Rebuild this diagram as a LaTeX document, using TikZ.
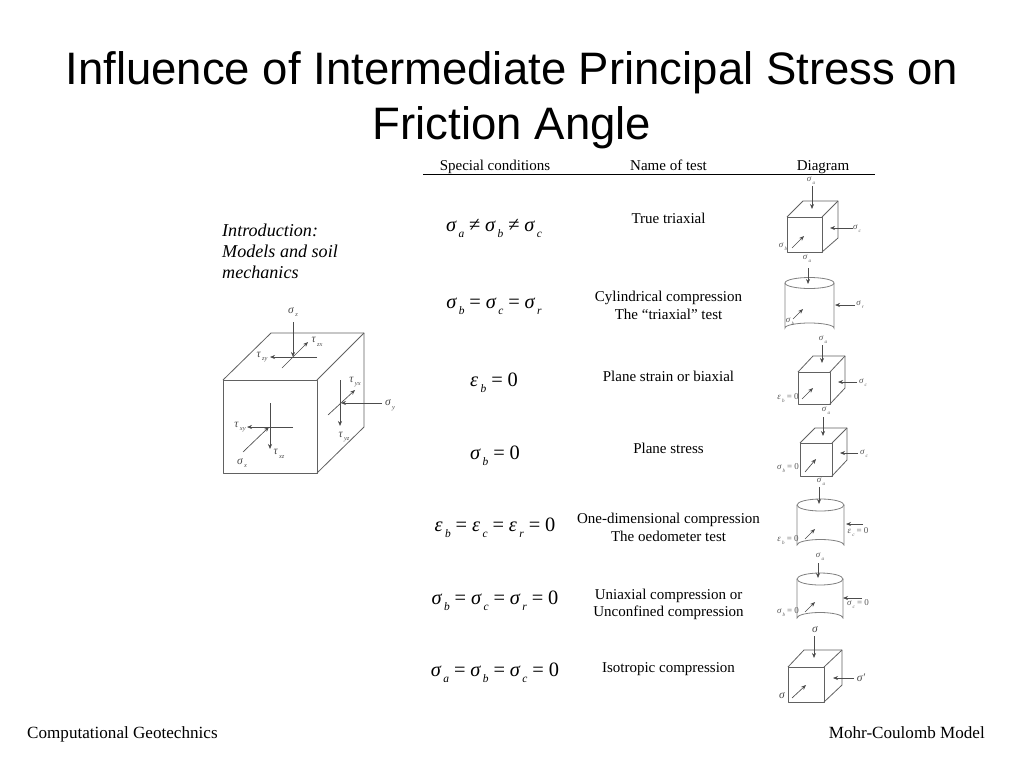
\documentclass[tikz,border=0pt]{standalone}
\usepackage{fontspec}
\setmainfont{Liberation Serif}
\newfontfamily\arialfont{Liberation Sans}
\usetikzlibrary{arrows.meta}
\newcommand\syma[2]{{\itshape #1}\raisebox{-0.3em}{\kern0.12em\fontsize{0.56em}{0.7em}\selectfont\itshape #2}}
\newcommand\sig[1]{\syma{σ}{#1}}
\newcommand\eps[1]{\syma{ε}{#1}}
\newcommand\rel[1]{\kern0.24em #1\kern0.24em}
\tikzset{
  x=1pt,y=-1pt,
  titletext/.style={font=\arialfont\fontsize{45.5}{48}\selectfont,anchor=base,text=black,inner sep=0},
  bodytext/.style={font=\fontsize{15}{18}\selectfont,anchor=base,inner sep=0,text=black},
  footertext/.style={font=\fontsize{17.1}{18}\selectfont,inner sep=0,text=black},
  introtext/.style={font=\fontsize{18.1}{20.5}\selectfont\itshape,anchor=base west,inner sep=0,text=black},
  formula/.style={font=\fontsize{20.4}{22}\selectfont,anchor=base,inner sep=0,text=black},
  edgeline/.style={draw=black!62,line width=0.8pt,line join=round},
  cyl/.style={draw=black!50,line width=0.8pt},
  force/.style={draw=black!70,line width=0.65pt,-{Stealth[length=5pt,width=4pt]}},
  tinylab/.style={font=\fontsize{9}{10}\selectfont,inner sep=0,text=black!65},
  biglab/.style={font=\fontsize{11.5}{12}\selectfont,inner sep=0,text=black!70},
  rulestyle/.style={draw=black,line width=0.8pt}
}
\newcommand\cube[8]{%
  \draw[edgeline] (#1,#3) rectangle (#2,#4);
  \draw[edgeline] (#1,#3) -- (#5,#7) -- (#6,#7) -- (#6,#8) -- (#2,#4);
  \draw[edgeline] (#2,#3) -- (#6,#7);
}
\newcommand\cylinder[6]{%
  \pgfmathsetmacro\cx{(#1+#2)/2}\pgfmathsetmacro\rx{(#2-#1)/2}%
  \draw[cyl] (\cx,#3) ellipse [x radius=\rx,y radius=#5];
  \draw[cyl] (#1,#3) -- (#1,#4) arc [start angle=180,end angle=360,x radius=\rx,y radius=#6] -- (#2,#3);
}
\begin{document}
\begin{tikzpicture}
\useasboundingbox (0,0) rectangle (1024,768);
\fill[white] (0,0) rectangle (1024,768);
\node[titletext] (title1) at (512,84) {Influence of Intermediate Principal Stress on};
\node[titletext] (title2) at (512,139) {Friction Angle};
\node[bodytext] (h1) at (495,170.5) {Special conditions};
\node[bodytext] (h2) at (668.5,170.5) {Name of test};
\node[bodytext] (h3) at (823,170.5) {Diagram};
\draw[rulestyle] (423,174.5) -- (875,174.5);
\node[introtext] (intro1) at (222,236.5) {Introduction:};
\node[introtext] (intro2) at (222,257) {Models and soil};
\node[introtext] (intro3) at (222,278) {mechanics};
% formulas
\node[formula] (f1) at (494,231) {\sig{a}\rel{≠}\sig{b}\rel{≠}\sig{c}};
\node[formula] (f2) at (494,308) {\sig{b}\rel{=}\sig{c}\rel{=}\sig{r}};
\node[formula] (f3) at (494,386) {\eps{b}\rel{=}0};
\node[formula] (f4) at (495,459) {\sig{b}\rel{=}0};
\node[formula] (f5) at (495,531) {\eps{b}\rel{=}\eps{c}\rel{=}\eps{r}\rel{=}0};
\node[formula] (f6) at (495,604) {\sig{b}\rel{=}\sig{c}\rel{=}\sig{r}\rel{=}0};
\node[formula] (f7) at (495,676) {\sig{a}\rel{=}\sig{b}\rel{=}\sig{c}\rel{=}0};
% names
\node[bodytext] (n1) at (668.5,223) {True triaxial};
\node[bodytext] (n2) at (668.5,301) {Cylindrical compression};
\node[bodytext] (n2b) at (668.5,319) {The “triaxial” test};
\node[bodytext] (n3) at (668.5,381) {Plane strain or biaxial};
\node[bodytext] (n4) at (668.5,453) {Plane stress};
\node[bodytext] (n5) at (668.5,523) {One-dimensional compression};
\node[bodytext] (n5b) at (668.5,541) {The oedometer test};
\node[bodytext] (n6) at (668.5,599) {Uniaxial compression or};
\node[bodytext] (n6b) at (668.5,616.5) {Unconfined compression};
\node[bodytext] (n7) at (668.5,672) {Isotropic compression};
% footer
\node[footertext,anchor=base west] (fl) at (27,738.5) {Computational Geotechnics};
\node[footertext,anchor=base east] (fr) at (985,738.5) {Mohr-Coulomb Model};
% diagram 1
\cube{787}{822}{217}{252}{803}{838}{201}{238}
\draw[force] (812,186) -- (812,209);
\draw[force] (853,228) -- (830,228);
\draw[force] (792,248) -- (804,236);
\node[tinylab] (d1a) at (811,181) {\sig{a}};
\node[tinylab] (d1c) at (857,229) {\sig{c}};
\node[tinylab] (d1b) at (783,247) {\sig{b}};
% diagram 2
\cylinder{785}{834}{283}{328}{5.5}{5}
\draw[force] (808,268) -- (808,284);
\draw[force] (855,305) -- (835,305);
\draw[force] (793,319) -- (803,309);
\node[tinylab] (d2a) at (807,259) {\sig{a}};
\node[tinylab] (d2c) at (860,305) {\sig{r}};
\node[tinylab] (d2b) at (790,322) {\sig{b}};
% diagram 3
\cube{798}{830}{372}{404}{813}{845}{356}{388}
\draw[force] (822,345) -- (822,363);
\draw[force] (857,382) -- (838,382);
\draw[force] (802,399) -- (813,388);
\node[tinylab] (d3a) at (823,339.5) {\sig{a}};
\node[tinylab] (d3c) at (863,383) {\sig{c}};
\node[tinylab] (d3b) at (788,398) {\eps{b}\rel{=}0};
% diagram 4
\cube{800}{832}{443}{476}{815}{847}{428}{460}
\draw[force] (823,417) -- (823,436);
\draw[force] (858,453) -- (840,453);
\draw[force] (805,472) -- (816,459);
\node[tinylab] (d4a) at (826,411) {\sig{a}};
\node[tinylab] (d4c) at (864,454) {\sig{c}};
\node[tinylab] (d4b) at (788,468) {\sig{b}\rel{=}0};
% diagram 5
\cylinder{797}{844}{505}{545}{6}{5.5}
\draw[force] (819,487) -- (819,504);
\draw[force] (863,524) -- (846,524);
\draw[force] (805,539) -- (815,529);
\node[tinylab] (d5a) at (821,482) {\sig{a}};
\node[tinylab] (d5c) at (858,532) {\eps{c}\rel{=}0};
\node[tinylab] (d5b) at (788,540) {\eps{b}\rel{=}0};
% diagram 6
\cylinder{797}{843}{579}{618}{6}{5.5}
\draw[force] (818,563) -- (818,578);
\draw[force] (862,598) -- (843,598);
\draw[force] (805,612) -- (815,602);
\node[tinylab] (d6a) at (820,557) {\sig{a}};
\node[tinylab] (d6c) at (858,604) {\sig{c}\rel{=}0};
\node[tinylab] (d6b) at (788,612) {\sig{b}\rel{=}0};
% diagram 7
\cube{788}{824}{667}{702}{804}{842}{650}{685}
\draw[force] (814,636) -- (814,658);
\draw[force] (854,678) -- (833,678);
\draw[force] (792,698) -- (806,685);
\node[biglab] (d7a) at (815,630) {\itshape σ};
\node[biglab] (d7c) at (861,678) {\itshape σ′};
\node[biglab] (d7b) at (782,696) {\itshape σ};
% large cube
\cube{223}{317}{380}{473}{271}{364}{333}{427}
\draw[force] (293,322) -- (293,357);
\draw[force] (317,357) -- (270,357);
\draw[force] (282,368) -- (308,342);
\draw[force] (340,380) -- (340,426);
\draw[force] (382,403) -- (341,403);
\draw[force] (328,415) -- (355,390);
\draw[force] (270,403) -- (270,449);
\draw[force] (293,427) -- (247,427);
\draw[force] (243,452) -- (269,427);
\node[biglab] (lsz) at (293,312) {\sig{z}};
\node[biglab] (ltzx) at (317,342) {\syma{τ}{zx}};
\node[biglab] (ltzy) at (262,357) {\syma{τ}{zy}};
\node[biglab] (ltyx) at (355,382) {\syma{τ}{yx}};
\node[biglab] (ltyz) at (344,437) {\syma{τ}{yz}};
\node[biglab] (lsy) at (390,405) {\sig{y}};
\node[biglab] (ltxy) at (240,427) {\syma{τ}{xy}};
\node[biglab] (ltxz) at (279,454) {\syma{τ}{xz}};
\node[biglab] (lsx) at (242,463) {\sig{x}};
\end{tikzpicture}
\end{document}
